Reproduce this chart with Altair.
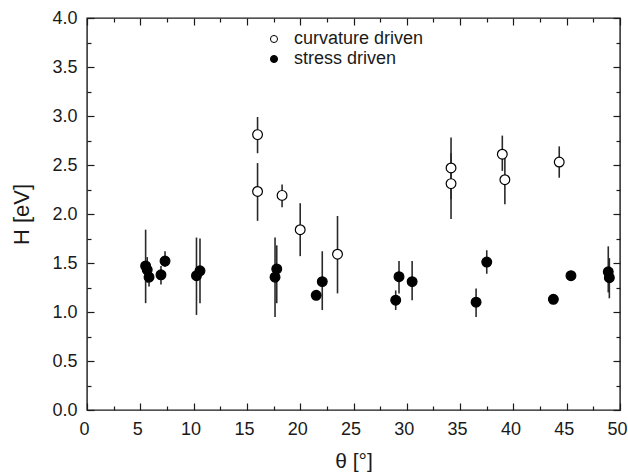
import altair as alt
import pandas as pd

# ---- data ----
curv_x = [16.0, 16.0, 18.3, 20.0, 23.5, 34.15, 34.15, 38.96, 39.2, 44.3]
curv_y = [2.81, 2.23, 2.19, 1.84, 1.59, 2.47, 2.31, 2.61, 2.35, 2.53]
curv_lo = [2.62, 1.93, 2.07, 1.57, 1.19, 2.15, 1.95, 2.44, 2.10, 2.37]
curv_hi = [2.99, 2.52, 2.30, 2.11, 1.98, 2.78, 2.62, 2.80, 2.62, 2.69]

stress_x = [5.5, 5.65, 5.82, 6.94, 7.32, 10.27, 10.6, 17.64, 17.8, 21.5,
            22.07, 28.96, 29.27, 30.5, 36.5, 37.5, 43.75, 45.4, 48.9, 49.0]
stress_y = [1.47, 1.43, 1.355, 1.38, 1.52, 1.37, 1.42, 1.355, 1.44, 1.17,
            1.31, 1.12, 1.36, 1.31, 1.10, 1.51, 1.13, 1.37, 1.41, 1.35]
stress_lo = [1.09, 1.30, 1.26, 1.28, 1.46, 0.97, 1.09, 0.95, 1.09, 1.15,
             1.02, 1.02, 1.19, 1.12, 0.95, 1.39, 1.10, 1.33, 1.20, 1.14]
stress_hi = [1.84, 1.56, 1.45, 1.47, 1.62, 1.76, 1.75, 1.76, 1.68, 1.19,
             1.62, 1.22, 1.52, 1.52, 1.24, 1.63, 1.16, 1.40, 1.67, 1.55]

series_names = ["curvature driven", "stress driven"]
series_fill = ["white", "black"]

x_major = [0, 5, 10, 15, 20, 25, 30, 35, 40, 45, 50]
x_minor = [2.5, 7.5, 12.5, 17.5, 22.5, 27.5, 32.5, 37.5, 42.5, 47.5]
y_major = [0, 0.5, 1.0, 1.5, 2.0, 2.5, 3.0, 3.5, 4.0]
y_minor = [0.25, 0.75, 1.25, 1.75, 2.25, 2.75, 3.25, 3.75]

rows = []
for x, y, lo, hi in zip(curv_x, curv_y, curv_lo, curv_hi):
    rows.append({"x": x, "y": y, "lo": lo, "hi": hi, "series": series_names[0]})
for x, y, lo, hi in zip(stress_x, stress_y, stress_lo, stress_hi):
    rows.append({"x": x, "y": y, "lo": lo, "hi": hi, "series": series_names[1]})
df = pd.DataFrame(rows)

W, H = 533, 392
FONT = "Liberation Sans"
INK = "#1a1a1a"

xs = alt.Scale(domain=[0, 50], nice=False, zero=False)
ys = alt.Scale(domain=[0, 4], nice=False, zero=False)


def tick_axis(orient, offset, values, size):
    return alt.Axis(orient=orient, offset=offset, values=values, labels=False,
                    domain=False, grid=False, ticks=True, tickSize=size,
                    tickColor=INK, tickWidth=1.2, title="")


base = alt.Chart(df)

errors = base.mark_rule(color="#2a2a2a", strokeWidth=1.6).encode(
    x=alt.X("x:Q", scale=xs, axis=alt.Axis(
        orient="bottom", values=x_major, ticks=False, domain=False, grid=False,
        labelFont=FONT, labelFontSize=18, labelColor=INK, labelPadding=10,
        labelOffset=-3, labelFlush=False, title="θ [°]", titleFont=FONT,
        titleFontSize=21, titleFontWeight="normal", titleColor=INK,
        titlePadding=12)),
    y=alt.Y("lo:Q", scale=ys, axis=alt.Axis(
        orient="left", values=y_major, format=".1f", ticks=False, domain=False,
        grid=False, labelFont=FONT, labelFontSize=18, labelColor=INK,
        labelPadding=10, labelFlush=False, title="H [eV]", titleFont=FONT,
        titleFontSize=22, titleFontWeight="normal", titleColor=INK,
        titlePadding=18)),
    y2="hi:Q",
)

points = base.mark_point(filled=True, size=95, stroke="black", strokeWidth=1.2,
                         opacity=1).encode(
    x=alt.X("x:Q", scale=xs, axis=tick_axis("top", -H, x_major, 7)),
    y=alt.Y("y:Q", scale=ys, axis=tick_axis("right", -W, y_major, 7)),
    fill=alt.Fill("series:N",
                  scale=alt.Scale(domain=series_names, range=series_fill),
                  legend=alt.Legend(orient="none", legendX=178, legendY=12,
                                    title=None, symbolType="circle",
                                    symbolSize=50, symbolStrokeColor="black",
                                    symbolStrokeWidth=1, labelFont=FONT,
                                    labelFontSize=18, labelColor=INK,
                                    labelOffset=11, rowPadding=2, padding=0)),
)

ghost1 = base.mark_point(opacity=0).encode(
    x=alt.X("x:Q", scale=xs, axis=tick_axis("bottom", -H, x_major, 7)),
    y=alt.Y("y:Q", scale=ys, axis=tick_axis("left", -W, y_major, 7)),
)
ghost2 = base.mark_point(opacity=0).encode(
    x=alt.X("x:Q", scale=xs, axis=tick_axis("top", -H, x_minor, 4)),
    y=alt.Y("y:Q", scale=ys, axis=tick_axis("right", -W, y_minor, 4)),
)
ghost3 = base.mark_point(opacity=0).encode(
    x=alt.X("x:Q", scale=xs, axis=tick_axis("bottom", -H, x_minor, 4)),
    y=alt.Y("y:Q", scale=ys, axis=tick_axis("left", -W, y_minor, 4)),
)

chart = alt.layer(errors, points, ghost1, ghost2, ghost3).resolve_axis(
    x="independent", y="independent"
).properties(
    width=W, height=H,
    autosize=alt.AutoSizeParams(type="none"),
    padding={"left": 87, "top": 18, "right": 8, "bottom": 65},
    background="white",
).configure_view(stroke=INK, strokeWidth=1.4)

chart.save("out.html", embed_options={"renderer": "svg", "actions": False})
